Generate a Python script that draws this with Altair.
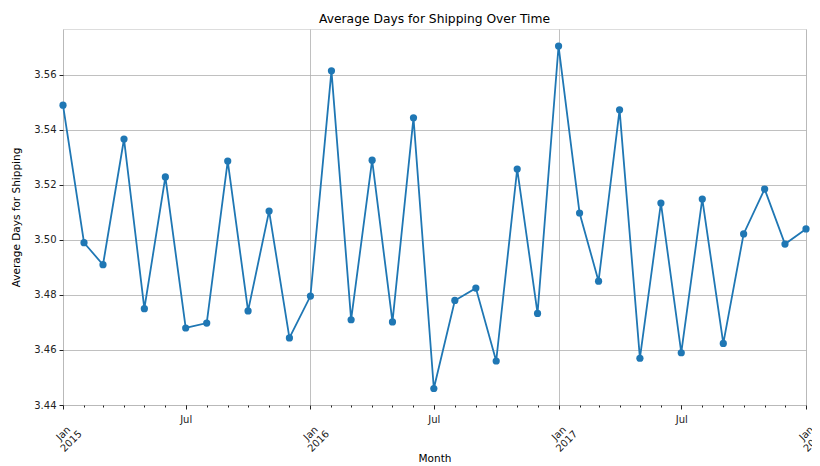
import altair as alt
import pandas as pd

months = [
    "2015-01-01", "2015-02-01", "2015-03-01", "2015-04-01", "2015-05-01", "2015-06-01",
    "2015-07-01", "2015-08-01", "2015-09-01", "2015-10-01", "2015-11-01", "2015-12-01",
    "2016-01-01", "2016-02-01", "2016-03-01", "2016-04-01", "2016-05-01", "2016-06-01",
    "2016-07-01", "2016-08-01", "2016-09-01", "2016-10-01", "2016-11-01", "2016-12-01",
    "2017-01-01", "2017-02-01", "2017-03-01", "2017-04-01", "2017-05-01", "2017-06-01",
    "2017-07-01", "2017-08-01", "2017-09-01", "2017-10-01", "2017-11-01", "2017-12-01",
    "2018-01-01",
]
avg_days = [
    3.549, 3.499, 3.491, 3.5367, 3.475, 3.5229,
    3.468, 3.4698, 3.5287, 3.4742, 3.5105, 3.4644,
    3.4796, 3.5615, 3.471, 3.529, 3.4702, 3.5444,
    3.446, 3.478, 3.4825, 3.456, 3.5258, 3.4733,
    3.5705, 3.5098, 3.485, 3.5473, 3.457, 3.5134,
    3.459, 3.5149, 3.4624, 3.5022, 3.5185, 3.4985,
    3.504,
]
y_ticks = [3.44, 3.46, 3.48, 3.50, 3.52, 3.54, 3.56]
jul_ticks = ["2015-07-01", "2016-07-01", "2017-07-01"]

df = pd.DataFrame({"month": months, "days": avg_days})


def ms(s):
    return int(pd.Timestamp(s, tz="UTC").timestamp() * 1000)


month_ms = [ms(m) for m in months]
jul_ms = [ms(m) for m in jul_ticks]

FONT = "DejaVu Sans"
BLUE = "#1f77b4"
x_scale = alt.Scale(type="utc", domain=[month_ms[0], month_ms[-1]], nice=False)

common = dict(
    labelFont=FONT,
    labelFontSize=10,
    labelColor="#222",
    titleFont=FONT,
    titleFontSize=10.5,
    titleFontWeight=400,
    titleColor="#000",
    tickColor="#222",
    gridColor="#b0b0b0",
    gridWidth=0.8,
    domain=False,
)

x_main = alt.X(
    "month:T",
    scale=x_scale,
    title="Month",
    axis=alt.Axis(
        orient="bottom",
        values=month_ms,
        labelExpr="utcmonth(datum.value) == 0 ? ['Jan', utcFormat(datum.value, '%Y')] : ''",
        labelAngle=-45,
        labelAlign="center",
        labelBaseline="middle",
        labelPadding=24,
        labelFlush=False,
        labelOverlap=False,
        labelLineHeight=11,
        titlePadding=0,
        grid=True,
        gridOpacity={"condition": {"test": "utcmonth(datum.value) == 0", "value": 1}, "value": 0},
        tickSize={"condition": {"test": "utcmonth(datum.value) == 0", "value": 4}, "value": 2},
        **common,
    ),
)

y_enc = alt.Y(
    "days:Q",
    scale=alt.Scale(domain=[3.44, 3.5767], nice=False, zero=False),
    title="Average Days for Shipping",
    axis=alt.Axis(
        values=y_ticks,
        format=".2f",
        titlePadding=12,
        grid=True,
        tickSize=4,
        labelPadding=3,
        **common,
    ),
)

line = alt.Chart(df).mark_line(
    color=BLUE,
    strokeWidth=1.8,
    point=alt.OverlayMarkDef(filled=True, color=BLUE, size=52, opacity=1),
).encode(x=x_main, y=y_enc)

jul_layer = alt.Chart(df).mark_point(opacity=0).encode(
    x=alt.X(
        "month:T",
        scale=x_scale,
        axis=alt.Axis(
            orient="bottom",
            values=jul_ms,
            labelExpr="'Jul'",
            labelAngle=0,
            labelAlign="center",
            labelBaseline="top",
            labelPadding=5,
            ticks=True,
            tickSize=4,
            grid=False,
            title=None,
            **common,
        ),
    ),
    y=alt.value(0),
)

chart = (
    alt.layer(line, jul_layer)
    .resolve_axis(x="independent")
    .properties(
        width=743,
        height=376,
        title=alt.TitleParams(
            "Average Days for Shipping Over Time",
            font=FONT,
            fontSize=12.3,
            fontWeight="normal",
            color="#000",
            offset=1,
            anchor="middle",
        ),
        padding={"left": 55, "top": 21, "right": 6, "bottom": 60},
        autosize="none",
    )
    .configure_view(stroke="#222", strokeWidth=1)
    .configure_axis(titleFontWeight=400)
    .configure(background="white")
)

chart.save("out.html", embed_options={"renderer": "svg", "actions": False})
